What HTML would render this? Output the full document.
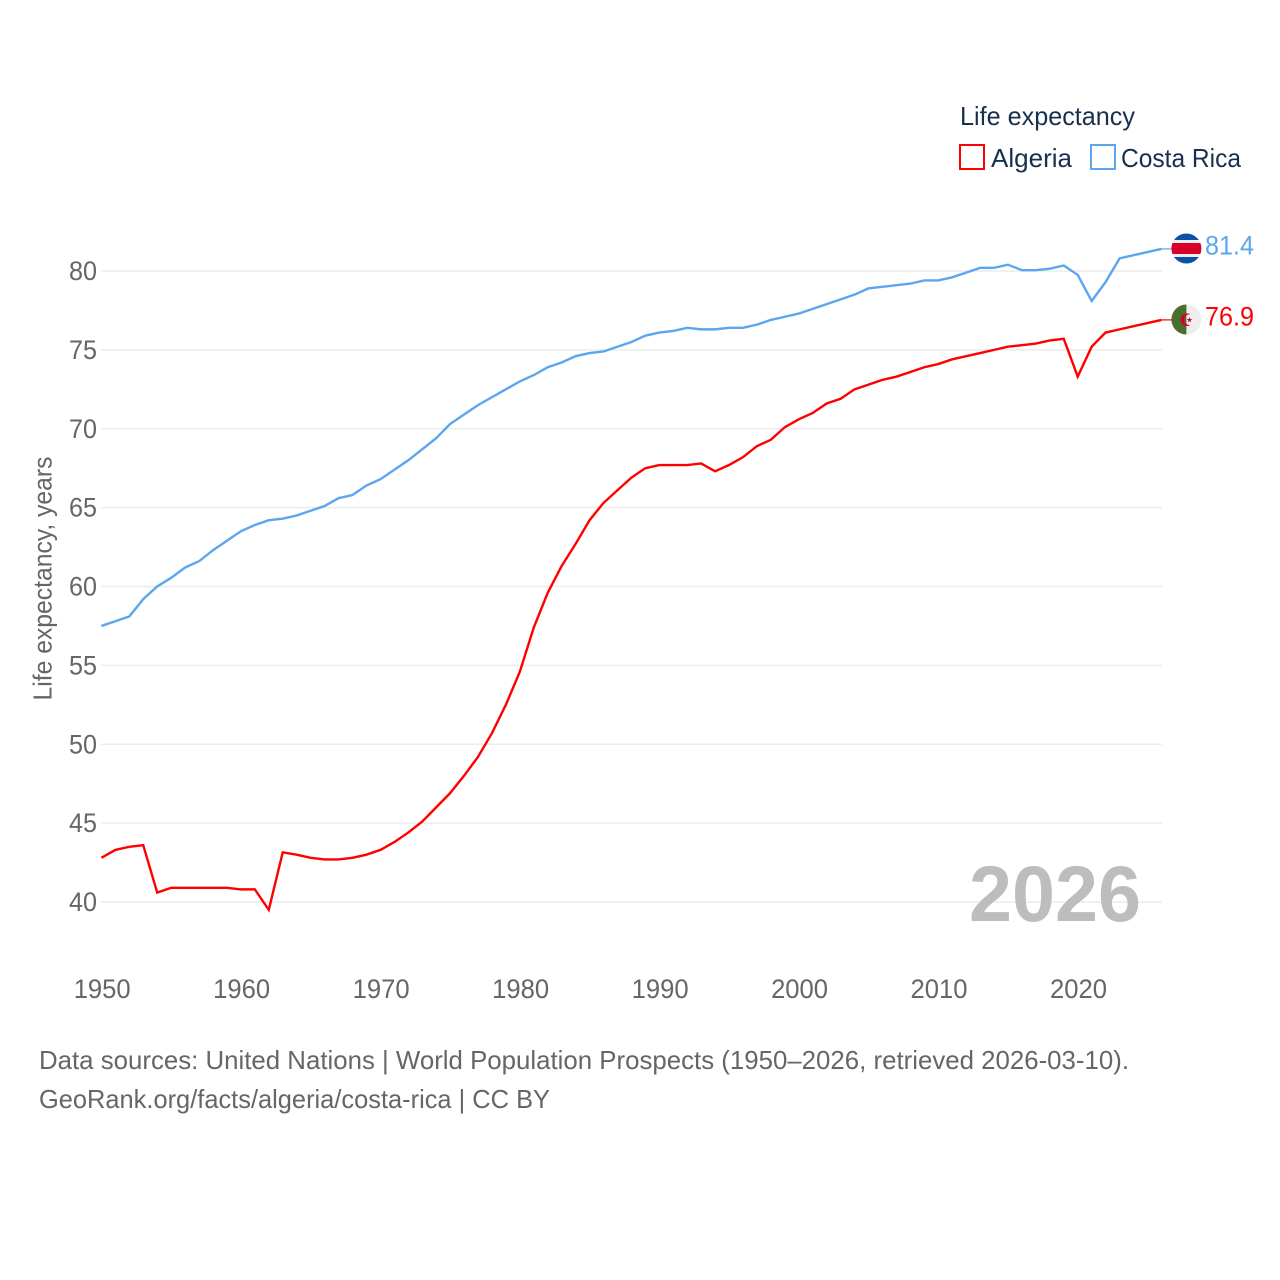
<!DOCTYPE html>
<html lang="en">
<head>
<meta charset="utf-8">
<title>Life expectancy: Algeria and Costa Rica</title>
<style>
html,body{margin:0;padding:0;background:#fff;width:1280px;height:1280px;overflow:hidden}
svg{display:block;font-family:"Liberation Sans",sans-serif}
</style>
</head>
<body>
<svg id="chart" xmlns="http://www.w3.org/2000/svg" width="1280" height="1280" viewBox="0 0 1280 1280">
  <defs>
    <clipPath id="flag-clip-cr"><circle id="clip-cr" cx="1186.4" cy="248.5" r="15"/></clipPath>
    <clipPath id="flag-clip-dz"><circle id="clip-dz" cx="1186.4" cy="319.5" r="15"/></clipPath>
  </defs>
  <rect width="1280" height="1280" fill="#fff"/>
  <g id="grid"></g>
  <g id="y-ticks"></g>
  <g id="x-ticks"></g>
  <text transform="translate(51.5,700.5) rotate(-90)" font-size="26" fill="#666" textLength="244" lengthAdjust="spacingAndGlyphs">Life expectancy, years</text>
  <text x="969" y="921" font-size="79" font-weight="700" fill="#bdbdbd" textLength="172" lengthAdjust="spacingAndGlyphs">2026</text>
  <path id="line-algeria" fill="none" stroke="#ff0000" stroke-width="2.4" stroke-linejoin="miter"/>
  <path id="line-costa-rica" fill="none" stroke="#5ba6ef" stroke-width="2.4" stroke-linejoin="miter"/>
  <path id="connector-algeria" fill="none" stroke="#ff0000" stroke-width="1.2"/>
  <path id="connector-costa-rica" fill="none" stroke="#5ba6ef" stroke-width="1.2"/>

  <g id="flag-cr" clip-path="url(#flag-clip-cr)">
    <rect x="1171" y="233" width="31" height="31" fill="#eeeeee"/>
    <rect x="1171" y="233" width="31" height="7" fill="#0d50a8"/>
    <rect x="1171" y="257" width="31" height="7" fill="#0d50a8"/>
    <rect x="1171" y="243" width="31" height="11" fill="#d80027"/>
  </g>
  <g id="flag-dz" clip-path="url(#flag-clip-dz)">
    <rect x="1186.4" y="304" width="16" height="31" fill="#eeeeee"/>
    <rect x="1171" y="304" width="15.4" height="31" fill="#496e2d"/>
    <path d="M1190.57 314.51A6.3 6.3 0 1 0 1190.57 324.89A5.3 5.3 0 1 1 1190.57 314.51Z" fill="#d80027"/>
    <polygon points="1189.5,316.9 1190.2,319 1192.4,319 1190.6,320.3 1191.3,322.4 1189.5,321.1 1187.7,322.4 1188.4,320.3 1186.6,319 1188.8,319" fill="#d80027"/>
  </g>
  <text id="end-label-cr" x="1205" y="254.5" font-size="27" fill="#5ba6ef" textLength="49" lengthAdjust="spacingAndGlyphs">81.4</text>
  <text id="end-label-dz" x="1205" y="325.5" font-size="27" fill="#ff0000" textLength="49" lengthAdjust="spacingAndGlyphs">76.9</text>

  <g>
    <text x="960" y="125" font-size="26" fill="#18304f" textLength="175" lengthAdjust="spacingAndGlyphs">Life expectancy</text>
    <g>
      <rect x="960" y="145" width="24" height="24" fill="#fff" stroke="#ff0000" stroke-width="2"/>
      <text x="991" y="167" font-size="26" fill="#18304f" textLength="81" lengthAdjust="spacingAndGlyphs">Algeria</text>
    </g>
    <g>
      <rect x="1091" y="145" width="24" height="24" fill="#fff" stroke="#5ba6ef" stroke-width="2"/>
      <text x="1121" y="167" font-size="26" fill="#18304f" textLength="120" lengthAdjust="spacingAndGlyphs">Costa Rica</text>
    </g>
  </g>

  <text x="39" y="1069" font-size="26" fill="#666" textLength="1090" lengthAdjust="spacingAndGlyphs">Data sources: United Nations | World Population Prospects (1950–2026, retrieved 2026-03-10).</text>
  <text x="39" y="1108" font-size="26" fill="#666" textLength="511" lengthAdjust="spacingAndGlyphs">GeoRank.org/facts/algeria/costa-rica | CC BY</text>
</svg>
<script>
const startYear = 1950;
const algeriaValues = [42.8,43.3,43.5,43.6,40.6,40.9,40.9,40.9,40.9,40.9,40.8,40.8,39.5,43.15,43.0,42.8,42.7,42.7,42.8,43.0,43.3,43.8,44.4,45.1,46.0,46.9,48.0,49.2,50.7,52.5,54.6,57.4,59.6,61.3,62.7,64.2,65.3,66.1,66.9,67.5,67.7,67.7,67.7,67.8,67.3,67.7,68.2,68.9,69.3,70.1,70.6,71.0,71.6,71.9,72.5,72.8,73.1,73.3,73.6,73.9,74.1,74.4,74.6,74.8,75.0,75.2,75.3,75.4,75.6,75.7,73.3,75.2,76.1,76.3,76.5,76.7,76.9];
const costaRicaValues = [57.5,57.8,58.1,59.2,60.0,60.55,61.2,61.6,62.3,62.9,63.5,63.9,64.2,64.3,64.5,64.8,65.1,65.6,65.8,66.4,66.8,67.4,68.0,68.7,69.4,70.3,70.9,71.5,72.0,72.5,73.0,73.4,73.9,74.2,74.6,74.8,74.9,75.2,75.5,75.9,76.1,76.2,76.4,76.3,76.3,76.4,76.4,76.6,76.9,77.1,77.3,77.6,77.9,78.2,78.5,78.9,79.0,79.1,79.2,79.4,79.4,79.6,79.9,80.2,80.2,80.4,80.05,80.05,80.15,80.35,79.75,78.1,79.3,80.8,81.0,81.2,81.4];
const yTickValues = [40,45,50,55,60,65,70,75,80];
const xTickValues = [1950,1960,1970,1980,1990,2000,2010,2020];

const SVG_NS = 'http://www.w3.org/2000/svg';
function xScale(year) { return 101.4 + (year - 1950) * (1161.4 - 101.4) / 76; }
function yScale(value) { return 902 - (value - 40) * (902 - 271) / 40; }
function linePath(values) {
  return values.map(function (v, i) {
    return (i ? 'L' : 'M') + xScale(startYear + i).toFixed(2) + ' ' + yScale(v).toFixed(2);
  }).join('');
}

const grid = document.getElementById('grid');
const yTicks = document.getElementById('y-ticks');
yTickValues.forEach(function (v) {
  const line = document.createElementNS(SVG_NS, 'line');
  
  
  line.setAttribute('x1', 101);
  line.setAttribute('x2', 1162);
  line.setAttribute('y1', yScale(v));
  line.setAttribute('y2', yScale(v));
  line.setAttribute('stroke', '#ececec');
  line.setAttribute('stroke-width', '1.4');
  grid.appendChild(line);
  const label = document.createElementNS(SVG_NS, 'text');
  
  
  label.setAttribute('x', 97);
  label.setAttribute('y', yScale(v) + 9);
  label.setAttribute('text-anchor', 'end');
  label.setAttribute('font-size', '27');
  label.setAttribute('fill', '#666');
  label.setAttribute('textLength', '28');
  label.setAttribute('lengthAdjust', 'spacingAndGlyphs');
  label.textContent = v;
  yTicks.appendChild(label);
});

const xTicks = document.getElementById('x-ticks');
xTickValues.forEach(function (year) {
  const label = document.createElementNS(SVG_NS, 'text');
  
  
  label.setAttribute('x', xScale(year) + 0.8);
  label.setAttribute('y', 998);
  label.setAttribute('text-anchor', 'middle');
  label.setAttribute('font-size', '27');
  label.setAttribute('fill', '#666');
  label.setAttribute('textLength', '57');
  label.setAttribute('lengthAdjust', 'spacingAndGlyphs');
  label.textContent = year;
  xTicks.appendChild(label);
});

document.getElementById('line-algeria').setAttribute('d', linePath(algeriaValues));
document.getElementById('line-costa-rica').setAttribute('d', linePath(costaRicaValues));

const lastYear = startYear + algeriaValues.length - 1;
const lastAlgeria = algeriaValues[algeriaValues.length - 1];
const lastCostaRica = costaRicaValues[costaRicaValues.length - 1];
document.getElementById('connector-algeria').setAttribute('d', 'M' + xScale(lastYear) + ' ' + yScale(lastAlgeria) + 'L1172 ' + yScale(lastAlgeria));
document.getElementById('connector-costa-rica').setAttribute('d', 'M' + xScale(lastYear) + ' ' + yScale(lastCostaRica) + 'L1172 ' + yScale(lastCostaRica));
document.getElementById('end-label-dz').textContent = lastAlgeria.toFixed(1);
document.getElementById('end-label-cr').textContent = lastCostaRica.toFixed(1);
</script>
</body>
</html>
